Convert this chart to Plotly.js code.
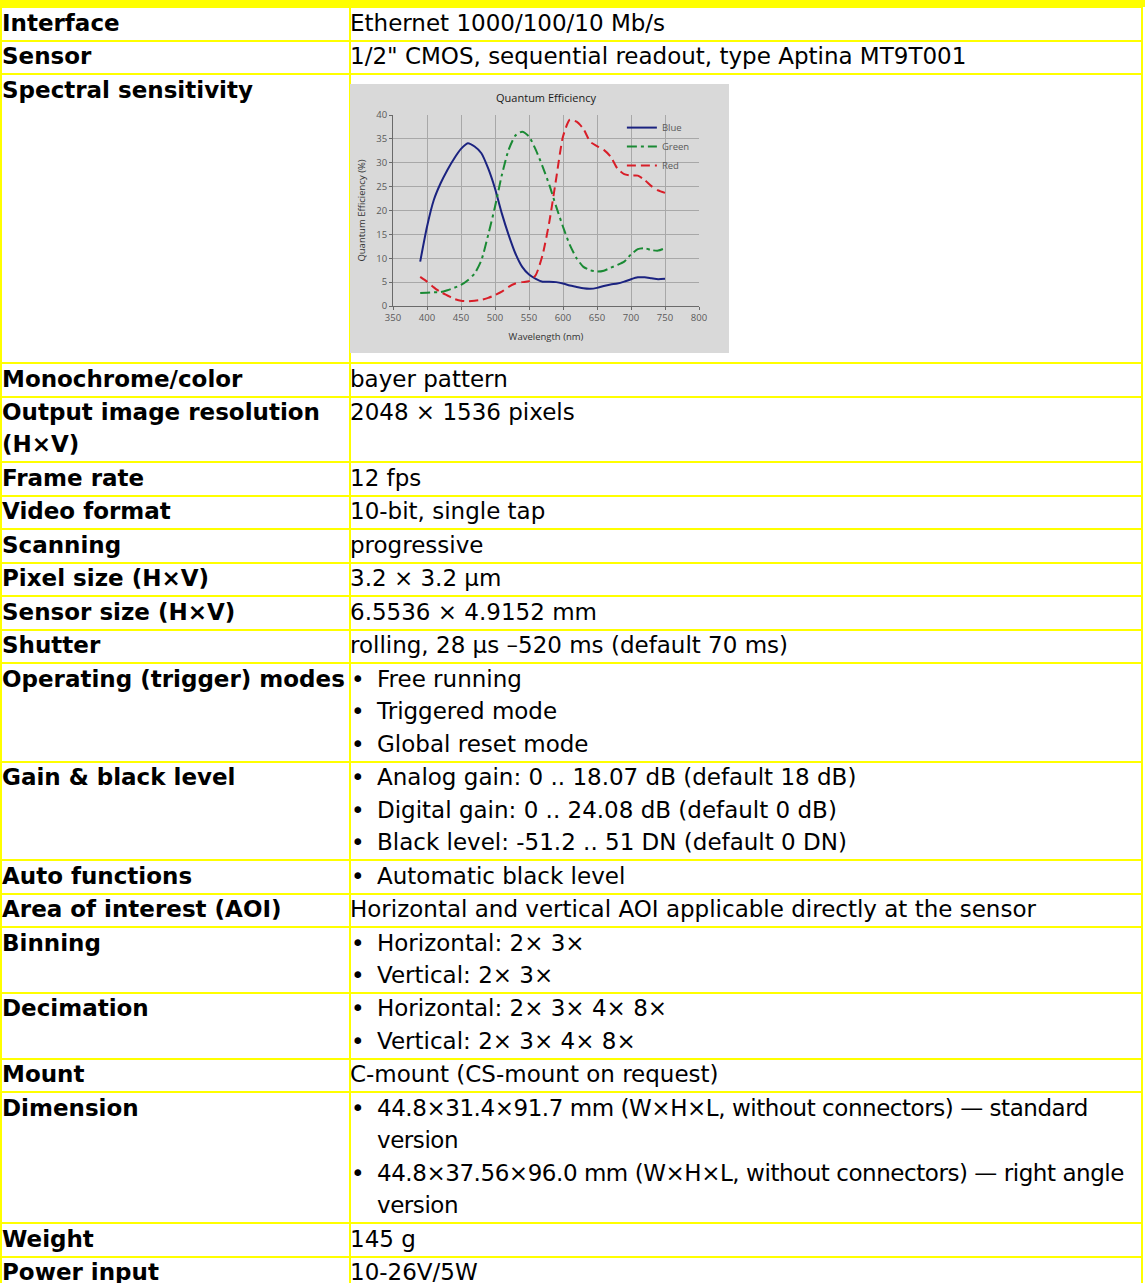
<!DOCTYPE html>
<html>
<head>
<meta charset="utf-8">
<script src="https://cdn.plot.ly/plotly-3.0.1.min.js"></script>
<style>
  html, body { margin: 0; padding: 0; background: #ffffff; }
  body { width: 1145px; height: 1283px; overflow: hidden; position: relative;
         font-family: "DejaVu Sans", sans-serif; color: #000; }
  .hline { position: absolute; left: 0; width: 1143px; height: 2px; background: #ffff00; }
  .vline { position: absolute; top: 7px; width: 2px; height: 1290px; background: #ffff00; }
  .cell { position: absolute; font-size: 23px; line-height: 32.4px; white-space: nowrap; }
  .lab { left: 2px; font-weight: bold; }
  .val { left: 350px; }
  .tight { letter-spacing: -0.45px; }
  .bul { position: relative; padding-left: 27px; }
  .bul::before { content: "\2022"; position: absolute; left: 1px; top: 0; letter-spacing: 0; }
  #strip { position: absolute; left: 0; top: 0; width: 1145px; height: 7px; background: #ffff00; }
  #qe { position: absolute; left: 350px; top: 84px; width: 379px; height: 269px; }
</style>
</head>
<body>
<div id="strip"></div>
<div id="table"></div>
<div id="qe"></div>
<script>
// ---- table content ----
const rowLabels = [
  "Interface", "Sensor", "Spectral sensitivity", "Monochrome/color",
  "Output image resolution<br>(H×V)", "Frame rate", "Video format", "Scanning",
  "Pixel size (H×V)", "Sensor size (H×V)", "Shutter", "Operating (trigger) modes",
  "Gain &amp; black level", "Auto functions", "Area of interest (AOI)", "Binning",
  "Decimation", "Mount", "Dimension", "Weight", "Power input"
];
const rowValues = [
  ["Ethernet 1000/100/10 Mb/s"],
  ["1/2\" CMOS, sequential readout, type Aptina MT9T001"],
  null,
  ["bayer pattern"],
  ["2048 × 1536 pixels"],
  ["12 fps"],
  ["10-bit, single tap"],
  ["progressive"],
  ["3.2 × 3.2 µm"],
  ["6.5536 × 4.9152 mm"],
  ["rolling, 28 µs –520 ms (default 70 ms)"],
  ["• Free running", "• Triggered mode", "• Global reset mode"],
  ["• Analog gain: 0 .. 18.07 dB (default 18 dB)", "• Digital gain: 0 .. 24.08 dB (default 0 dB)", "• Black level: -51.2 .. 51 DN (default 0 DN)"],
  ["• Automatic black level"],
  ["Horizontal and vertical AOI applicable directly at the sensor"],
  ["• Horizontal: 2× 3×", "• Vertical: 2× 3×"],
  ["• Horizontal: 2× 3× 4× 8×", "• Vertical: 2× 3× 4× 8×"],
  ["C-mount (CS-mount on request)"],
  ["• 44.8×31.4×91.7 mm (W×H×L, without connectors) — standard<br>version", "• 44.8×37.56×96.0 mm (W×H×L, without connectors) — right angle<br>version"],
  ["145 g"],
  ["10-26V/5W"]
];
const rowLines = [1,1,0,1,2,1,1,1,1,1,1,3,3,1,1,2,2,1,4,1,1];

// ---- chart data ----
const wavelength = [390,400,410,420,430,440,450,460,470,480,490,500,510,520,530,540,550,560,570,580,590,600,610,620,630,640,650,660,670,680,690,700,710,720,730,740,750];
const qeBlue  = [9.3,16.6,22.2,25.7,28.5,30.9,32.9,34.1,33.4,32.0,28.8,24.6,19.4,14.9,11.0,8.2,6.6,5.7,5.1,5.1,5.0,4.7,4.3,4.0,3.7,3.6,3.8,4.2,4.5,4.7,5.1,5.6,6.0,6.0,5.8,5.6,5.7];
const qeGreen = [2.7,2.8,2.9,2.9,3.3,3.8,4.4,5.4,6.8,9.6,14.9,20.8,27.4,32.7,35.7,36.5,35.5,32.7,29.2,25.3,20.8,16.6,12.8,10.0,8.2,7.5,7.2,7.4,8.0,8.6,9.3,10.8,11.9,12.1,11.7,11.6,12.1];
const qeRed   = [6.1,5.1,3.9,2.9,2.2,1.5,1.1,1.0,1.1,1.3,1.7,2.3,3.0,4.0,4.7,5.0,5.2,6.5,10.7,17.7,26.7,35.5,39.0,38.6,37.1,34.4,33.5,32.7,31.3,28.8,27.6,27.3,27.3,26.4,25.1,24.2,23.7];
const seriesNames = ["Blue", "Green", "Red"];
const xTickVals = [350,400,450,500,550,600,650,700,750,800];
const yTickVals = [0,5,10,15,20,25,30,35,40];

// ---- build table ----
const tbl = document.getElementById('table');
let y = 7;
const bounds = [y];
const heights = rowLines.map((n, i) => i === 2 ? 289 : 32.4 * n + 1.1);
heights.forEach(h => { y += h; bounds.push(y); });
bounds.forEach(b => {
  const d = document.createElement('div');
  d.className = 'hline';
  d.style.top = (b - 1) + 'px';
  tbl.appendChild(d);
});
[0, 348.5, 1141].forEach(x => {
  const d = document.createElement('div');
  d.className = 'vline';
  d.style.left = x + 'px';
  tbl.appendChild(d);
});
rowLabels.forEach((lab, i) => {
  const top = bounds[i] - 0.5;
  const l = document.createElement('div');
  l.className = 'cell lab';
  l.style.top = top + 'px';
  l.innerHTML = lab;
  tbl.appendChild(l);
  const vals = rowValues[i];
  if (vals) {
    const v = document.createElement('div');
    v.className = 'cell val' + (lab === 'Dimension' ? ' tight' : '');
    v.style.top = top + 'px';
    vals.forEach(t => {
      const line = document.createElement('div');
      if (t.startsWith('• ')) { line.className = 'bul'; line.innerHTML = t.slice(2); }
      else { line.innerHTML = t; }
      v.appendChild(line);
    });
    tbl.appendChild(v);
  }
});

// ---- chart ----
const colors = ["#1b2380", "#1a8a34", "#d81e28"];
const dashes = ["solid", "10px,4px,3px,4px", "9px,5px"];
const yData = [qeBlue, qeGreen, qeRed];
const traces = yData.map((ys, i) => ({
  x: wavelength, y: ys, name: seriesNames[i], type: 'scatter', mode: 'lines',
  line: { color: colors[i], width: 2, dash: dashes[i], shape: 'spline', smoothing: 0.6 }
}));
const bg = '#d9d9d9';
const tickFont = { family: 'Open Sans, sans-serif', size: 9.5, color: '#595959' };
const layout = {
  width: 379, height: 269,
  margin: { l: 43, r: 30, t: 31, b: 47, pad: 0 },
  paper_bgcolor: bg, plot_bgcolor: bg,
  title: { text: 'Quantum Efficiency', font: { family: 'Open Sans, sans-serif', size: 11, color: '#1a1a1a' },
           x: 0.5, xref: 'paper', y: 0.948, yref: 'container', yanchor: 'middle' },
  showlegend: true,
  legend: { x: 0.748, y: 1.01, xanchor: 'left', yanchor: 'top', bgcolor: 'rgba(0,0,0,0)',
            font: { family: 'Open Sans, sans-serif', size: 9.5, color: '#595959' },
            tracegroupgap: 0, borderwidth: 0 },
  xaxis: {
    range: [350, 800], tickvals: xTickVals, ticktext: xTickVals.map(String),
    showgrid: true, gridcolor: '#a8a8a8', gridwidth: 1, zeroline: false,
    showline: true, linecolor: '#6a6a6a', linewidth: 1,
    ticks: 'outside', ticklen: 3, tickcolor: '#6a6a6a', tickfont: tickFont,
    title: { text: 'Wavelength (nm)', font: { family: 'Open Sans, sans-serif', size: 9.5, color: '#333333' }, standoff: 9 },
    fixedrange: true
  },
  yaxis: {
    range: [0, 40], tickvals: yTickVals, ticktext: yTickVals.map(String),
    showgrid: true, gridcolor: '#a8a8a8', gridwidth: 1, zeroline: false,
    showline: true, linecolor: '#6a6a6a', linewidth: 1,
    ticks: 'outside', ticklen: 3, tickcolor: '#6a6a6a', tickfont: tickFont,
    title: { text: 'Quantum Efficiency (%)', font: { family: 'Open Sans, sans-serif', size: 9.5, color: '#333333' }, standoff: 8 },
    fixedrange: true
  }
};
Plotly.newPlot('qe', traces, layout, { staticPlot: true, displayModeBar: false });
</script>
</body>
</html>
